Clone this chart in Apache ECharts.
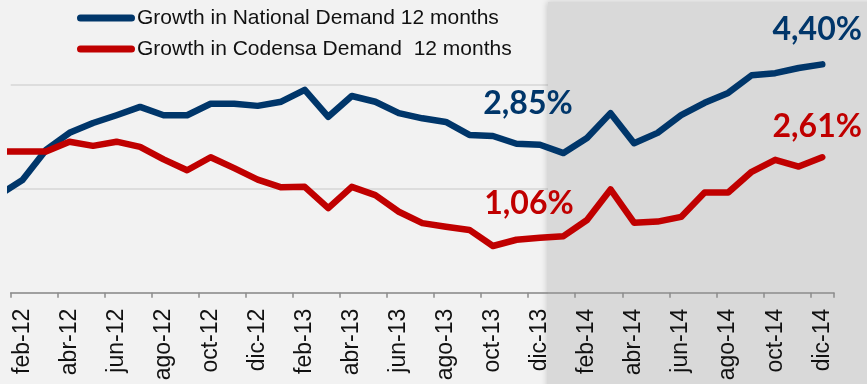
<!DOCTYPE html>
<html>
<head>
<meta charset="utf-8">
<script src="https://cdn.jsdelivr.net/npm/echarts@6/dist/echarts.min.js"></script>
<style>
  html, body { margin: 0; padding: 0; background: #f2f2f2; }
  #chart { width: 867px; height: 384px; }
</style>
</head>
<body>
<div id="chart"></div>
<script>
// Monthly periods; the first one (ene-12) only feeds the line's entry stroke at the left edge.
const months = [
  'ene-12','feb-12','mar-12','abr-12','may-12','jun-12','jul-12','ago-12','sep-12','oct-12','nov-12','dic-12',
  'ene-13','feb-13','mar-13','abr-13','may-13','jun-13','jul-13','ago-13','sep-13','oct-13','nov-13','dic-13',
  'ene-14','feb-14','mar-14','abr-14','may-14','jun-14','jul-14','ago-14','sep-14','oct-14','nov-14','dic-14'
];

// 12-month growth of national electricity demand (%)
const national = [
  1.88, 2.17, 2.75, 3.08, 3.27, 3.42, 3.58, 3.42, 3.42, 3.64, 3.64, 3.60,
  3.68, 3.91, 3.39, 3.79, 3.68, 3.46, 3.36, 3.29, 3.04, 3.02, 2.87, 2.85,
  2.69, 2.98, 3.46, 2.88, 3.08, 3.42, 3.66, 3.85, 4.19, 4.23, 4.33, 4.40
];

// 12-month growth of Codensa demand (%)
const codensa = [
  2.72, 2.72, 2.72, 2.91, 2.83, 2.91, 2.81, 2.57, 2.36, 2.61, 2.40, 2.18,
  2.03, 2.04, 1.63, 2.04, 1.88, 1.56, 1.34, 1.27, 1.21, 0.90, 1.02, 1.06,
  1.09, 1.40, 1.99, 1.35, 1.37, 1.46, 1.93, 1.93, 2.33, 2.56, 2.43, 2.61
];

// Value axis range and gridline step (%)
const yTicks = { min: 0, max: 5.64, interval: 2 };

// Months whose values are called out on the chart
const calloutMonths = ['dic-13', 'dic-14'];

const seriesNames = ['Growth in National Demand 12 months', 'Growth in Codensa Demand  12 months'];
const BLUE = '#00366a';
const RED = '#c00000';

const axisMonths = months.slice(1);

function fmtPct(v) { return v.toFixed(2).replace('.', ',') + '%'; }

// label offsets relative to each called-out point
const calloutOffsets = {
  national: { 'dic-13': [-12, -41], 'dic-14': [-5, -35] },
  codensa:  { 'dic-13': [-11, -34], 'dic-14': [-5, -31] }
};

function buildData(values, key, color) {
  return values.map((v, i) => {
    const m = months[i];
    const item = { value: [i - 1, v] };
    if (calloutMonths.includes(m)) {
      item.label = {
        show: true,
        position: 'inside',
        align: 'center',
        verticalAlign: 'middle',
        offset: calloutOffsets[key][m],
        formatter: p => fmtPct(p.value[1]),
        color: color,
        fontFamily: 'Lato',
        fontWeight: 'bold',
        fontSize: 32
      };
    }
    return item;
  });
}

const chart = echarts.init(document.getElementById('chart'), null, { renderer: 'canvas' });

const LEGEND_ICON = 'path://M3.5,0H54.5A3.5,3.5,0,0,1,54.5,7H3.5A3.5,3.5,0,0,1,3.5,0Z';

chart.setOption({
  animation: false,
  backgroundColor: '#f2f2f2',
  textStyle: { fontFamily: 'Liberation Sans, Arial, sans-serif' },
  grid: { left: 10.7, right: 33, top: 0, bottom: 91.3, containLabel: false },
  legend: {
    orient: 'vertical',
    left: 77,
    top: 7,
    padding: 0,
    itemWidth: 58,
    itemHeight: 7,
    itemGap: 9,
    icon: LEGEND_ICON,
    textStyle: { fontSize: 21, color: '#111', lineHeight: 22, padding: [0, 0, 0, -3], fontFamily: 'Liberation Sans, Arial, sans-serif' },
    data: [
      { name: seriesNames[0], itemStyle: { color: BLUE } },
      { name: seriesNames[1], itemStyle: { color: RED } }
    ]
  },
  graphic: {
    elements: [{
      type: 'rect',
      z: 1,
      silent: true,
      shape: { x: 548, y: 2, width: 330, height: 390 },
      style: {
        fill: '#d9d9d9',
        shadowColor: 'rgba(0,0,0,0.18)',
        shadowBlur: 6,
        shadowOffsetX: -1
      }
    }]
  },
  xAxis: [
    {
      type: 'category',
      data: axisMonths,
      boundaryGap: true,
      position: 'bottom',
      z: 3,
      axisLine: { show: true, lineStyle: { color: '#8c8c8c', width: 1.5 } },
      axisTick: { show: true, interval: 1, length: 5, inside: false, lineStyle: { color: '#8c8c8c', width: 1.5 } },
      axisLabel: {
        interval: 1,
        rotate: 90,
        margin: 16,
        fontSize: 23,
        color: '#111',
        fontFamily: 'Liberation Sans, Arial, sans-serif'
      },
      splitLine: { show: false }
    },
    {
      type: 'value',
      min: -0.5,
      max: axisMonths.length - 0.5,
      show: false
    }
  ],
  yAxis: {
    type: 'value',
    min: yTicks.min,
    max: yTicks.max,
    interval: yTicks.interval,
    z: 0,
    axisLine: { show: false },
    axisTick: { show: false },
    axisLabel: { show: false },
    splitLine: { show: true, showMaxLine: false, lineStyle: { color: '#d6d6d6', width: 1.5 } }
  },
  series: [
    {
      name: seriesNames[0],
      type: 'line',
      xAxisIndex: 1,
      z: 4,
      data: buildData(national, 'national', BLUE),
      symbol: 'circle',
      symbolSize: 0,
      showSymbol: true,
      clip: true,
      itemStyle: { color: BLUE },
      lineStyle: { color: BLUE, width: 6.5, cap: 'round', join: 'round' }
    },
    {
      name: seriesNames[1],
      type: 'line',
      xAxisIndex: 1,
      z: 4,
      data: buildData(codensa, 'codensa', RED),
      symbol: 'circle',
      symbolSize: 0,
      showSymbol: true,
      clip: true,
      itemStyle: { color: RED },
      lineStyle: { color: RED, width: 6.5, cap: 'round', join: 'round' }
    }
  ]
});
</script>
</body>
</html>
